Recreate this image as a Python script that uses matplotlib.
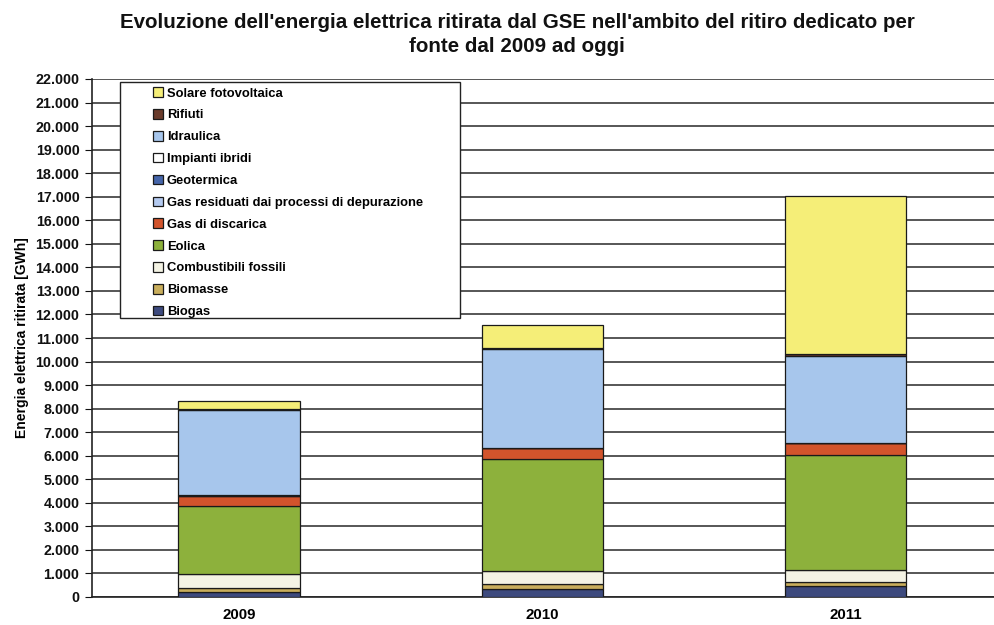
import matplotlib
matplotlib.use("Agg")
import matplotlib.pyplot as plt
from matplotlib.patches import Rectangle
from matplotlib.ticker import FuncFormatter, MultipleLocator
import numpy as np

plt.rcParams['font.family'] = ['Liberation Sans', 'DejaVu Sans']

years = ["2009", "2010", "2011"]
# stack order bottom -> top (legend shows reversed)
sources = ["Biogas", "Biomasse", "Combustibili fossili", "Eolica", "Gas di discarica",
           "Gas residuati dai processi di depurazione", "Geotermica", "Impianti ibridi",
           "Idraulica", "Rifiuti", "Solare fotovoltaica"]
biogas = [220, 330, 470]
biomasse = [160, 220, 180]
combustibili = [600, 550, 500]
eolica = [2880, 4760, 4880]
gas_discarica = [430, 450, 490]
gas_residuati = [15, 15, 15]
geotermica = [10, 10, 10]
impianti_ibridi = [10, 10, 10]
idraulica = [3620, 4170, 3680]
rifiuti = [50, 80, 100]
solare = [340, 960, 6700]
series = [biogas, biomasse, combustibili, eolica, gas_discarica, gas_residuati,
          geotermica, impianti_ibridi, idraulica, rifiuti, solare]
colors = ["#3d4a7e", "#c9ae5c", "#f4f3e4", "#8db13c", "#d2542c", "#b4caf0",
          "#4565aa", "#ffffff", "#a7c6ec", "#6a3b2b", "#f5ee78"]

W, H = 995, 625
fig = plt.figure(figsize=(W / 100, H / 100), dpi=100)
def fx(px): return px / W
def fy(py): return 1 - py / H

ax = fig.add_axes([fx(92), fy(597), fx(1000) - fx(92), fy(79) - fy(597)])
x = np.arange(len(years))
bottom = np.zeros(len(years))
handles = []
for name, vals, c in zip(sources, series, colors):
    b = ax.bar(x, vals, 0.40, bottom=bottom, color=c, edgecolor="#1a1a1a",
               linewidth=0.9, label=name, zorder=3)
    handles.append(b)
    bottom += np.array(vals)

ax.set_ylim(0, 22000)
ax.set_xlim(-0.485, 2.51)
ax.yaxis.set_major_locator(MultipleLocator(1000))
ax.yaxis.set_major_formatter(FuncFormatter(lambda v, p: f"{int(v):,}".replace(",", ".")))
ax.grid(axis="y", color="#3a3a3a", linewidth=1.2, zorder=0)
ax.set_axisbelow(True)
for s in ["top", "right"]:
    ax.spines[s].set_visible(False)
ax.spines["left"].set_color("#222222")
ax.spines["bottom"].set_color("#222222")
ax.spines["left"].set_linewidth(1.2)
ax.spines["bottom"].set_linewidth(1.2)
ax.tick_params(axis="y", direction="out", length=5, labelsize=10.3, colors="#111111", pad=4)
ax.tick_params(axis="x", length=0, labelsize=10.8, pad=8)
ax.set_xticks(x)
ax.set_xticklabels(years, fontweight="bold")
for t in ax.get_yticklabels():
    t.set_fontweight("bold")
ax.set_ylabel("Energia elettrica ritirata [GWh]", fontsize=10, fontweight="bold", labelpad=5)

fig.text(fx(517), fy(22), "Evoluzione dell'energia elettrica ritirata dal GSE nell'ambito del ritiro dedicato per",
         ha="center", va="center", fontsize=14.8, fontweight="bold", color="#111111")
fig.text(fx(517), fy(47), "fonte dal 2009 ad oggi",
         ha="center", va="center", fontsize=14.8, fontweight="bold", color="#111111")

# legend box
box = Rectangle((fx(120), fy(318)), fx(460) - fx(120), fy(82) - fy(318),
                transform=fig.transFigure, facecolor="white", edgecolor="#222222",
                linewidth=1.0, zorder=5)
fig.patches.append(box)
leg = fig.legend(handles[::-1], sources[::-1], loc="upper left",
                 bbox_to_anchor=(fx(148), fy(82)), frameon=False,
                 prop={"size": 9.4, "weight": "bold"},
                 handlelength=0.75, handleheight=0.75, handletextpad=0.3,
                 labelspacing=0.73, borderaxespad=0)
leg.set_zorder(6)

fig.savefig("out.png", dpi=100)
